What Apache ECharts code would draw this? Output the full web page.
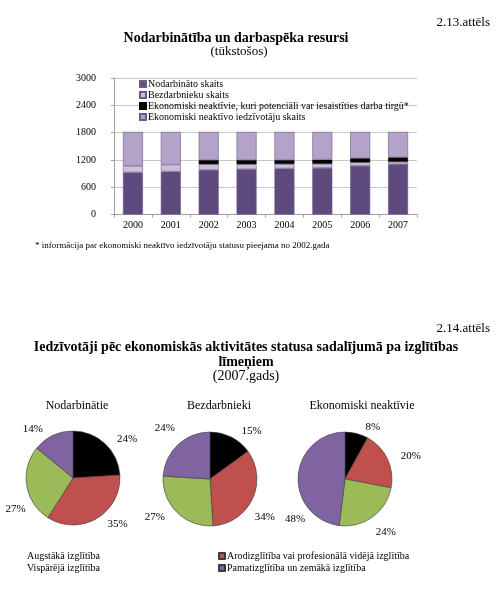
<!DOCTYPE html>
<html>
<head>
<meta charset="utf-8">
<script src="https://cdn.jsdelivr.net/npm/echarts@6/dist/echarts.min.js"></script>
<style>
html,body{margin:0;padding:0;background:#fff;}
#c{width:500px;height:591px;}
</style>
</head>
<body>
<div id="c"></div>
<script>
// ---- Bar chart data (thousands) ----
const years = ['2000','2001','2002','2003','2004','2005','2006','2007'];
const employed   = [925, 945, 980, 995, 1010, 1025, 1070, 1105];
const unemployed = [145, 150, 125, 110, 100, 90, 75, 55];
const potential  = [null, null, 90, 90, 85, 90, 90, 95];
const inactive   = [745, 720, 620, 620, 620, 610, 580, 560];
const barSeriesNames = ['Nodarbināto skaits','Bezdarbnieku skaits','Ekonomiski neaktīvie, kuri potenciāli var iesaistīties darba tirgū*','Ekonomiski neaktīvo iedzīvotāju skaits'];
const yTicks = [0, 600, 1200, 1800, 2400, 3000];

// ---- Pie chart data (%) ----
const eduLevels = ['Augstākā izglītība','Arodizglītība vai profesionālā vidējā izglītība','Vispārējā izglītība','Pamatizglītība un zemākā izglītība'];
const pieTitles = ['Nodarbinātie','Bezdarbnieki','Ekonomiski neaktīvie'];
const pieEmployed   = [24, 35, 27, 14];
const pieUnemployed = [15, 34, 27, 24];
const pieInactive   = [8, 20, 24, 48];

const serif = '"Liberation Serif", "Times New Roman", serif';
const barColors = ['#5f4a7e', '#ccc1db', '#000000', '#b3a3c8'];
const pieColors = ['#000000', '#c0504d', '#9bbb59', '#8064a2'];

const chart = echarts.init(document.getElementById('c'), null, {renderer:'canvas'});

function txt(text, x, y, size, bold, align) {
  return {
    type: 'text', x: x, y: y, silent: true,
    style: {
      text: text,
      font: (bold ? 'bold ' : '') + size + 'px ' + serif,
      fill: '#000',
      textAlign: align || 'center',
      textVerticalAlign: 'middle'
    }
  };
}

const barData = [employed, unemployed, potential, inactive];
const barSeries = barSeriesNames.map((n, i) => ({
  name: n,
  type: 'bar',
  stack: 'total',
  barWidth: 20,
  data: barData[i],
  itemStyle: { color: barColors[i], borderColor: i === 2 ? '#000' : '#6d5a88', borderWidth: 0.6 },
  emphasis: { disabled: true }
}));

// label nudges (Excel-like placement of percentage labels)
const labelNudge = [
  { 2: [13, 23] },
  { 1: [-11, 15], 3: [9, -12] },
  { 2: [-8, 9], 3: [21, 44] }
];

const pieCenters = [[73, 478], [210, 479], [345, 479]];
const pieValues = [pieEmployed, pieUnemployed, pieInactive];
const pieSeries = pieValues.map((vals, k) => ({
  type: 'pie',
  name: pieTitles[k],
  center: pieCenters[k],
  radius: 47,
  startAngle: 90,
  clockwise: true,
  avoidLabelOverlap: false,
  data: eduLevels.map((n, i) => ({ name: n, value: vals[i], itemStyle: { color: pieColors[i] } })),
  itemStyle: { borderColor: '#3a3a3a', borderWidth: 0.6 },
  label: { show: true, position: 'outside', formatter: '{c}%', fontFamily: serif, fontSize: 11, color: '#000' },
  labelLine: { show: false, length: 7, length2: 2 },
  labelLayout: function (p) {
    const n = labelNudge[k][p.dataIndex];
    return n ? { dx: n[0], dy: n[1] } : {};
  },
  emphasis: { disabled: true }
}));

const option = {
  animation: false,
  backgroundColor: '#fff',
  textStyle: { fontFamily: serif },
  grid: { left: 114, right: 83, top: 78, bottom: 376.5, containLabel: false },
  xAxis: {
    type: 'category',
    data: years,
    axisLine: { show: true, lineStyle: { color: '#a0a0a0', width: 1 } },
    axisTick: { show: true, alignWithLabel: false, length: 3, lineStyle: { color: '#a0a0a0' } },
    axisLabel: { fontFamily: serif, fontSize: 10, color: '#000', margin: 6 }
  },
  yAxis: {
    type: 'value',
    min: yTicks[0],
    max: yTicks[yTicks.length - 1],
    interval: 600,
    axisLine: { show: true, lineStyle: { color: '#a0a0a0', width: 1 } },
    axisTick: { show: true, length: 3, lineStyle: { color: '#a0a0a0' } },
    axisLabel: { fontFamily: serif, fontSize: 10, color: '#000', margin: 18, formatter: v => String(v) },
    splitLine: { show: true, lineStyle: { color: '#c8c8c8', width: 1 } }
  },
  legend: [
    {
      data: barSeriesNames,
      orient: 'vertical',
      left: 139, top: 79,
      itemWidth: 6, itemHeight: 6, itemGap: 1,
      icon: 'rect',
      selectedMode: false,
      textStyle: { fontFamily: serif, fontSize: 10, color: '#000', padding: [0, 0, 0, -3] },
      padding: 0
    },
    {
      data: [
        { name: eduLevels[0], itemStyle: { opacity: 0 } },
        { name: eduLevels[2], itemStyle: { opacity: 0 } }
      ],
      orient: 'vertical',
      left: 17, top: 551,
      itemWidth: 6, itemHeight: 6, itemGap: 2,
      icon: 'rect',
      selectedMode: false,
      textStyle: { fontFamily: serif, fontSize: 10, color: '#000', padding: [0, 0, 0, -2] },
      padding: 0
    },
    {
      data: [eduLevels[1], eduLevels[3]],
      orient: 'vertical',
      left: 218, top: 551,
      itemWidth: 6, itemHeight: 6, itemGap: 2,
      icon: 'rect',
      selectedMode: false,
      textStyle: { fontFamily: serif, fontSize: 10, color: '#000', padding: [0, 0, 0, -3] },
      padding: 0
    }
  ],
  graphic: [
    txt('2.13.attēls', 490, 23, 13, false, 'right'),
    txt('Nodarbinātība un darbaspēka resursi', 236, 38, 14, true),
    txt('(tūkstošos)', 239, 52, 13, false),
    txt('* informācija par ekonomiski neaktīvo iedzīvotāju statusu pieejama no 2002.gada', 35, 246, 9, false, 'left'),
    txt('2.14.attēls', 490, 329, 13, false, 'right'),
    txt('Iedzīvotāji pēc ekonomiskās aktivitātes statusa sadalījumā pa izglītības', 246, 347, 14, true),
    txt('līmeņiem', 246, 362, 14, true),
    txt('(2007.gads)', 246, 376, 14, false),
    txt(pieTitles[0], 77, 406, 12, false),
    txt(pieTitles[1], 219, 406, 12, false),
    txt(pieTitles[2], 362, 406, 12, false)
  ],
  series: barSeries.concat(pieSeries)
};

chart.setOption(option);
</script>
</body>
</html>
